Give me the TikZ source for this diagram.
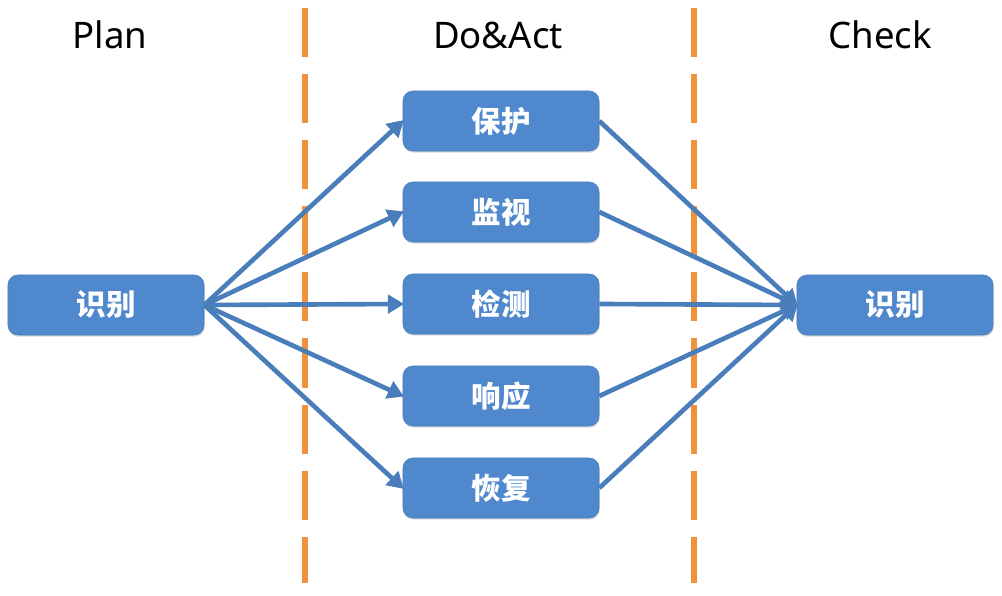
\documentclass[tikz,border=0pt]{standalone}
\usepackage{fontspec}
\setmainfont{Noto Sans}
\newfontfamily\cjk{Noto Sans CJK SC}
\usetikzlibrary{arrows.meta,shadows}

\definecolor{boxblue}{RGB}{80,136,205}
\definecolor{lineblue}{RGB}{74,126,187}
\definecolor{divorange}{RGB}{240,146,60}

\tikzset{
	stage/.style={draw=lineblue, thin, fill=boxblue, rounded corners=7pt,
		minimum width=4.9cm, minimum height=1.5cm, text=white,
		font=\cjk\bfseries\fontsize{21}{24}\selectfont,
		drop shadow={opacity=0.3, shadow xshift=0.5pt, shadow yshift=-1.2pt}},
	phase/.style={font=\fontsize{26}{31}\selectfont},
	flow/.style={draw=lineblue, line width=3.3pt, -{Triangle[length=11.5pt, width=13pt]}, shorten >=-1pt},
	divider/.style={draw=divorange, line width=3.6pt, dash pattern=on 34.9pt off 12.1pt}
}

\begin{document}
\begin{tikzpicture}[x=0.025cm, y=-0.025cm]
		\useasboundingbox (0,0) rectangle (1002,596);

		\node[phase] (plan) at (110,35) {Plan};
		\node[phase] (doact) at (498,35) {Do\&Act};
		\node[phase] (check) at (880,35) {Check};

		\draw[divider] (305,8) -- (305,583);
		\draw[divider] (694,8) -- (694,583);

		\node[stage] (ident) at (106,305) {识别};
		\node[stage] (protect) at (501,121) {保护};
		\node[stage] (monitor) at (501,212) {监视};
		\node[stage] (detect) at (501,304) {检测};
		\node[stage] (respond) at (501,396) {响应};
		\node[stage] (recover) at (501,488) {恢复};
		\node[stage] (review) at (895,305) {识别};

		\foreach \s in {protect, monitor, detect, respond, recover} {
			\draw[flow] (ident.east) -- (\s.west);
			\draw[flow] (\s.east) -- (review.west);
		}
	\end{tikzpicture}
\end{document}
